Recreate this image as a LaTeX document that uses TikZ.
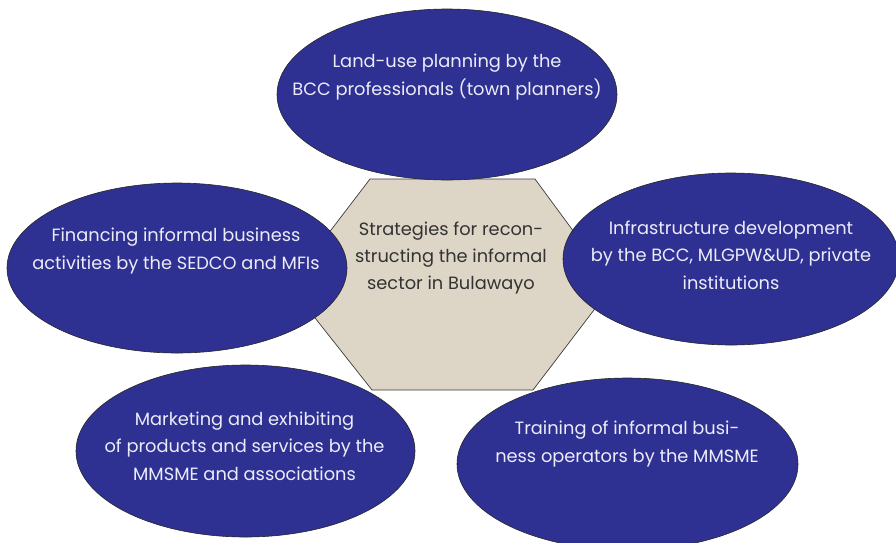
\documentclass[tikz,border=0pt]{standalone}
\usepackage{fontspec}
\setmainfont{Poppins}
\usetikzlibrary{shapes.geometric}
\definecolor{ovalblue}{RGB}{46,49,146}
\definecolor{hexfill}{RGB}{221,214,198}
\definecolor{hexline}{RGB}{60,60,60}
\definecolor{ovaltext}{RGB}{236,236,248}
\definecolor{hextext}{RGB}{51,51,51}
\tikzset{
  oval/.style={ellipse, draw=black!85, line width=0.6pt, fill=ovalblue, inner sep=0pt},
  ovaltxt/.style={align=center, text=ovaltext, font=\fontsize{17.8}{27.3}\selectfont, inner sep=0pt},
  hextxt/.style={align=center, text=hextext, font=\fontsize{17.8}{27.3}\selectfont, inner sep=0pt}
}
\begin{document}
\begin{tikzpicture}[x=1pt,y=-1pt]
\useasboundingbox (0,0) rectangle (896,542);
% hexagon
\coordinate (h1) at (370,179);
\coordinate (h2) at (535,179);
\coordinate (h3) at (613,285);
\coordinate (h4) at (533,390);
\coordinate (h5) at (372,390);
\coordinate (h6) at (289,285);
\draw[fill=hexfill, draw=hexline, line width=0.7pt] (h1) -- (h2) -- (h3) -- (h4) -- (h5) -- (h6) -- cycle;
\node[hextxt] (hex) at (451,258) {Strategies for recon-\\structing the informal\\sector in Bulawayo};
% ovals
\node[oval, minimum width=340pt, minimum height=171pt] (top) at (447,94.5) {};
\node[oval, minimum width=340pt, minimum height=170pt] (left) at (177,268) {};
\node[oval, minimum width=336pt, minimum height=172pt] (right) at (731,259) {};
\node[oval, minimum width=339pt, minimum height=172pt] (bl) at (245.5,451) {};
\node[oval, minimum width=341pt, minimum height=172pt] (br) at (627.5,464) {};
\node[ovaltxt] (toptxt) at (447,77) {Land-use planning by the\\BCC professionals (town planners)};
\node[ovaltxt] (lefttxt) at (176,251) {Financing informal business\\activities by the SEDCO and MFIs};
\node[ovaltxt] (righttxt) at (731,255) {Infrastructure development\\by the BCC, MLGPW\&UD, private\\institutions};
\node[ovaltxt] (bltxt) at (244.5,446) {Marketing and exhibiting\\of products and services by the\\MMSME and associations};
\node[ovaltxt] (brtxt) at (627,444) {Training of informal busi-\\ness operators by the MMSME};
\end{tikzpicture}
\end{document}
